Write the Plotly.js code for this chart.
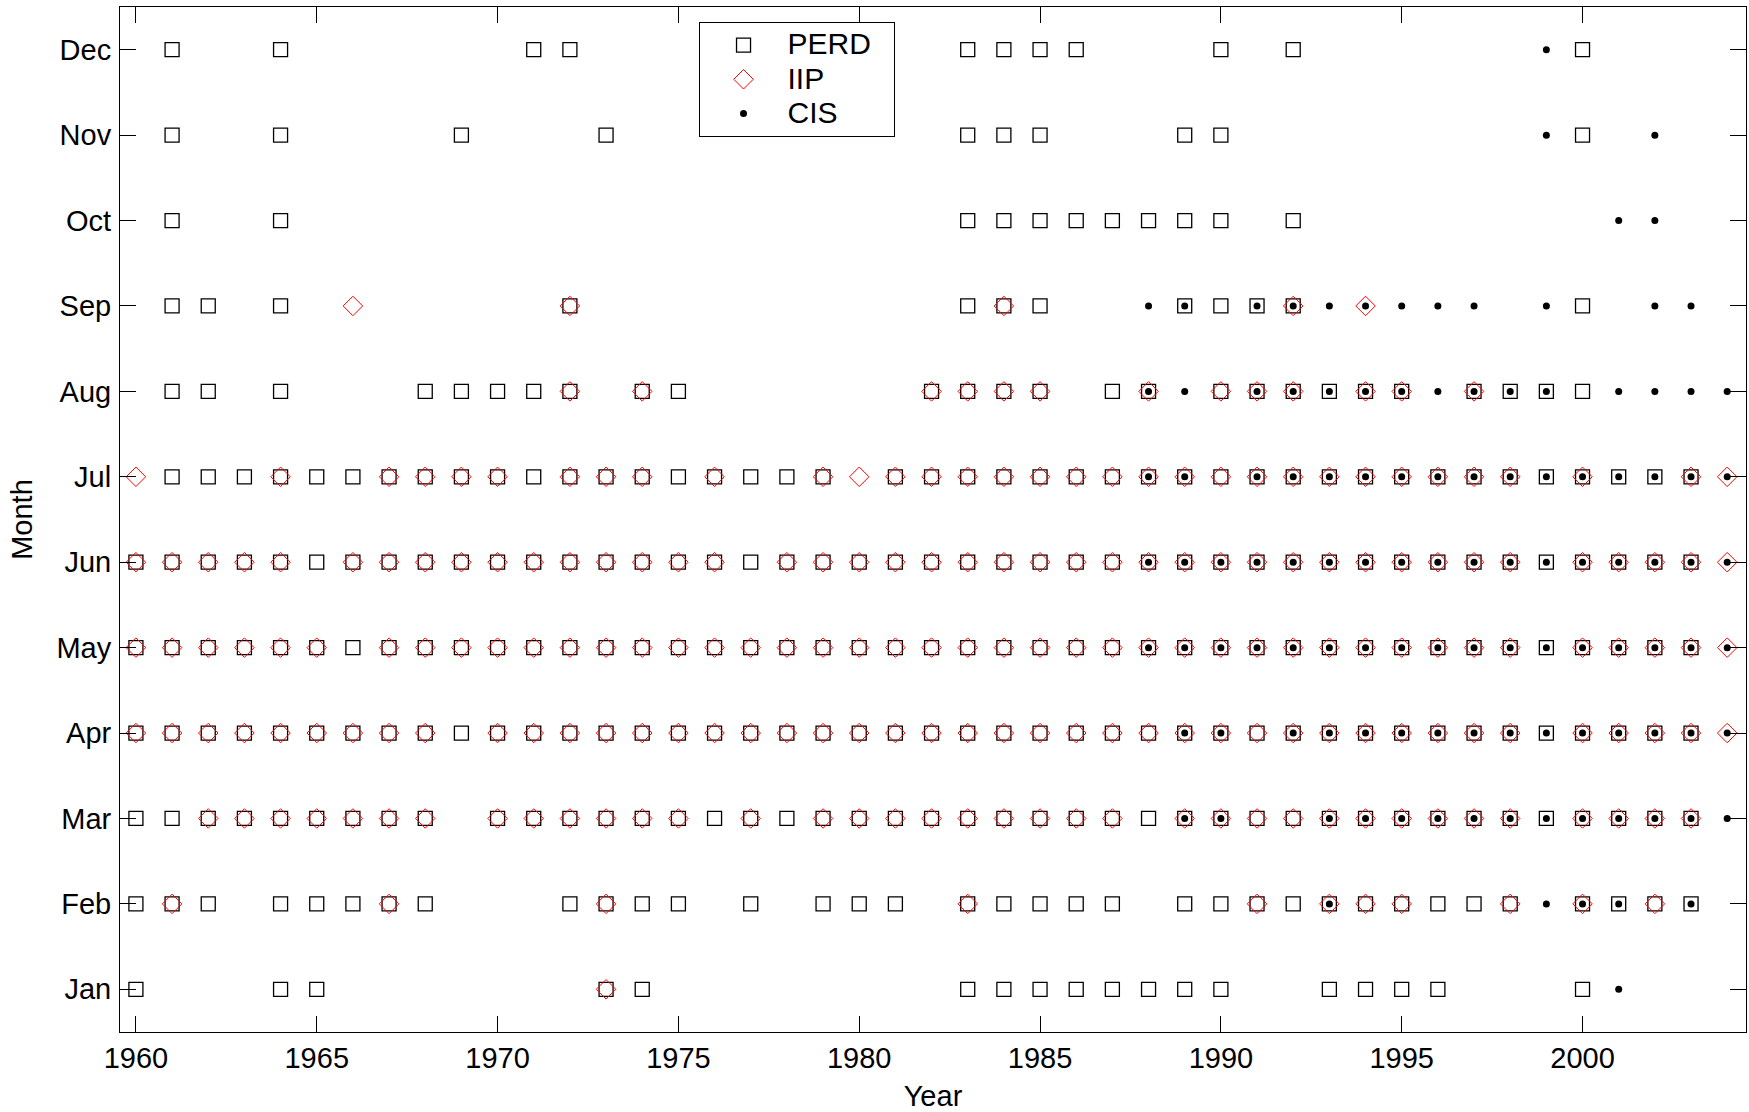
<!DOCTYPE html>
<html>
<head>
<meta charset="utf-8">
<script src="https://cdn.plot.ly/plotly-3.0.1.min.js"></script>
<style>
  html, body { margin: 0; padding: 0; background: #fff; }
  #chart { width: 1749px; height: 1112px; }
</style>
</head>
<body>
<div id="chart"></div>
<script>
// Month categories (y axis, bottom to top)
const months = ['Jan','Feb','Mar','Apr','May','Jun','Jul','Aug','Sep','Oct','Nov','Dec'];

// X axis tick labels
const yearTicks = [1960, 1965, 1970, 1975, 1980, 1985, 1990, 1995, 2000];

// Series names
const seriesNames = ['PERD', 'IIP', 'CIS'];

// PERD: years with a record, listed per month (Jan .. Dec)
const perdYears = [
  [1960,1964,1965,1973,1974,1983,1984,1985,1986,1987,1988,1989,1990,1993,1994,1995,1996,2000],
  [1960,1961,1962,1964,1965,1966,1967,1968,1972,1973,1974,1975,1977,1979,1980,1981,1983,1984,1985,1986,1987,1989,1990,1991,1992,1993,1994,1995,1996,1997,1998,2000,2001,2002,2003],
  [1960,1961,1962,1963,1964,1965,1966,1967,1968,1970,1971,1972,1973,1974,1975,1976,1977,1978,1979,1980,1981,1982,1983,1984,1985,1986,1987,1988,1989,1990,1991,1992,1993,1994,1995,1996,1997,1998,1999,2000,2001,2002,2003],
  [1960,1961,1962,1963,1964,1965,1966,1967,1968,1969,1970,1971,1972,1973,1974,1975,1976,1977,1978,1979,1980,1981,1982,1983,1984,1985,1986,1987,1988,1989,1990,1991,1992,1993,1994,1995,1996,1997,1998,1999,2000,2001,2002,2003],
  [1960,1961,1962,1963,1964,1965,1966,1967,1968,1969,1970,1971,1972,1973,1974,1975,1976,1977,1978,1979,1980,1981,1982,1983,1984,1985,1986,1987,1988,1989,1990,1991,1992,1993,1994,1995,1996,1997,1998,1999,2000,2001,2002,2003],
  [1960,1961,1962,1963,1964,1965,1966,1967,1968,1969,1970,1971,1972,1973,1974,1975,1976,1977,1978,1979,1980,1981,1982,1983,1984,1985,1986,1987,1988,1989,1990,1991,1992,1993,1994,1995,1996,1997,1998,1999,2000,2001,2002,2003],
  [1961,1962,1963,1964,1965,1966,1967,1968,1969,1970,1971,1972,1973,1974,1975,1976,1977,1978,1979,1981,1982,1983,1984,1985,1986,1987,1988,1989,1990,1991,1992,1993,1994,1995,1996,1997,1998,1999,2000,2001,2002,2003],
  [1961,1962,1964,1968,1969,1970,1971,1972,1974,1975,1982,1983,1984,1985,1987,1988,1990,1991,1992,1993,1994,1995,1997,1998,1999,2000],
  [1961,1962,1964,1972,1983,1984,1985,1989,1990,1991,1992,2000],
  [1961,1964,1983,1984,1985,1986,1987,1988,1989,1990,1992],
  [1961,1964,1969,1973,1983,1984,1985,1989,1990,2000],
  [1961,1964,1971,1972,1983,1984,1985,1986,1990,1992,2000]
];

// IIP: years with a record, listed per month (Jan .. Dec)
const iipYears = [
  [1973],
  [1961,1967,1973,1983,1991,1993,1994,1995,1998,2000,2002],
  [1962,1963,1964,1965,1966,1967,1968,1970,1971,1972,1973,1974,1975,1977,1979,1980,1981,1982,1983,1984,1985,1986,1987,1989,1990,1991,1992,1993,1994,1995,1996,1997,1998,2000,2001,2002,2003],
  [1960,1961,1962,1963,1964,1965,1966,1967,1968,1970,1971,1972,1973,1974,1975,1976,1977,1978,1979,1980,1981,1982,1983,1984,1985,1986,1987,1988,1989,1990,1991,1992,1993,1994,1995,1996,1997,1998,2000,2001,2002,2003,2004],
  [1960,1961,1962,1963,1964,1965,1967,1968,1969,1970,1971,1972,1973,1974,1975,1976,1977,1978,1979,1980,1981,1982,1983,1984,1985,1986,1987,1988,1989,1990,1991,1992,1993,1994,1995,1996,1997,1998,2000,2001,2002,2003,2004],
  [1960,1961,1962,1963,1964,1966,1967,1968,1969,1970,1971,1972,1973,1974,1975,1976,1978,1979,1980,1981,1982,1983,1984,1985,1986,1987,1988,1989,1990,1991,1992,1993,1994,1995,1996,1997,1998,2000,2001,2002,2003,2004],
  [1960,1964,1967,1968,1969,1970,1972,1973,1974,1976,1979,1980,1981,1982,1983,1984,1985,1986,1987,1988,1989,1990,1991,1992,1993,1994,1995,1996,1997,1998,2000,2003,2004],
  [1972,1974,1982,1983,1984,1985,1988,1990,1991,1992,1994,1995,1997],
  [1966,1972,1984,1992,1994],
  [],
  [],
  []
];

// CIS: years with a record, listed per month (Jan .. Dec)
const cisYears = [
  [2001],
  [1993,1999,2000,2001,2003],
  [1989,1990,1993,1994,1995,1996,1997,1998,1999,2000,2001,2002,2003,2004],
  [1989,1990,1992,1993,1994,1995,1996,1997,1998,1999,2000,2001,2002,2003,2004],
  [1988,1989,1990,1991,1992,1993,1994,1995,1996,1997,1998,1999,2000,2001,2002,2003,2004],
  [1988,1989,1990,1991,1992,1993,1994,1995,1996,1997,1998,1999,2000,2001,2002,2003,2004],
  [1988,1989,1991,1992,1993,1994,1995,1996,1997,1998,1999,2000,2001,2002,2003,2004],
  [1988,1989,1991,1992,1993,1994,1995,1996,1997,1998,1999,2001,2002,2003,2004],
  [1988,1989,1991,1992,1993,1994,1995,1996,1997,1999,2002,2003],
  [2001,2002],
  [1999,2002],
  [1999]
];

function flatten(byMonth) {
  const xs = [], ys = [];
  byMonth.forEach((yrs, m) => {
    yrs.forEach(yr => { xs.push(yr); ys.push(m + 1); });
  });
  return { x: xs, y: ys };
}

const perd = flatten(perdYears);
const iip = flatten(iipYears);
const cis = flatten(cisYears);

const FONT = 'Liberation Sans, Arial, Helvetica, sans-serif';
// legend label: larger text, padded on the right so the box is as wide as the original
const legendName = s => '<span style="font-size:30px">' + s + '\u00a0\u00a0</span>';

const traces = [
  {
    type: 'scatter', mode: 'markers', name: legendName(seriesNames[0]),
    x: perd.x, y: perd.y,
    marker: { symbol: 'square-open', size: 14, color: '#000', line: { width: 1.3, color: '#000' } }
  },
  {
    type: 'scatter', mode: 'markers', name: legendName(seriesNames[1]),
    x: iip.x, y: iip.y,
    marker: { symbol: 'diamond-open', size: 15, color: '#ff0000', line: { width: 1, color: '#ff0000' } }
  },
  {
    type: 'scatter', mode: 'markers', name: legendName(seriesNames[2]),
    x: cis.x, y: cis.y,
    marker: { symbol: 'circle', size: 7, color: '#000', line: { width: 0 } }
  }
];

const layout = {
  width: 1749, height: 1112,
  margin: { l: 120, r: 3, t: 7, b: 80 },
  paper_bgcolor: '#fff', plot_bgcolor: '#fff',
  font: { family: FONT, size: 29, color: '#000' },
  showlegend: true,
  legend: {
    x: 0.3558, y: 0.9854, xanchor: 'left', yanchor: 'top',
    bgcolor: '#fff', bordercolor: '#000', borderwidth: 1,
    itemwidth: 78,
    font: { family: FONT, size: 24, color: '#000' }
  },
  xaxis: {
    range: [1959.56, 2004.52],
    tickvals: yearTicks, ticktext: yearTicks.map(String),
    ticks: 'inside', ticklen: 16, tickwidth: 1, tickcolor: '#000',
    showline: true, linecolor: '#000', linewidth: 1, mirror: 'ticks',
    showgrid: false, zeroline: false,
    tickfont: { family: FONT, size: 29, color: '#000' },
    ticklabelstandoff: 0,
    title: { text: 'Year', font: { family: FONT, size: 29, color: '#000' }, standoff: 14 }
  },
  yaxis: {
    range: [0.5, 12.5],
    tickvals: months.map((m, i) => i + 1), ticktext: months,
    ticks: 'inside', ticklen: 16, tickwidth: 1, tickcolor: '#000',
    showline: true, linecolor: '#000', linewidth: 1, mirror: 'ticks',
    showgrid: false, zeroline: false,
    tickfont: { family: FONT, size: 29, color: '#000' },
    ticklabelstandoff: 2,
    title: { text: 'Month', font: { family: FONT, size: 29, color: '#000' }, standoff: 15 }
  }
};

Plotly.newPlot('chart', traces, layout, { displayModeBar: false, staticPlot: true });
</script>
</body>
</html>
